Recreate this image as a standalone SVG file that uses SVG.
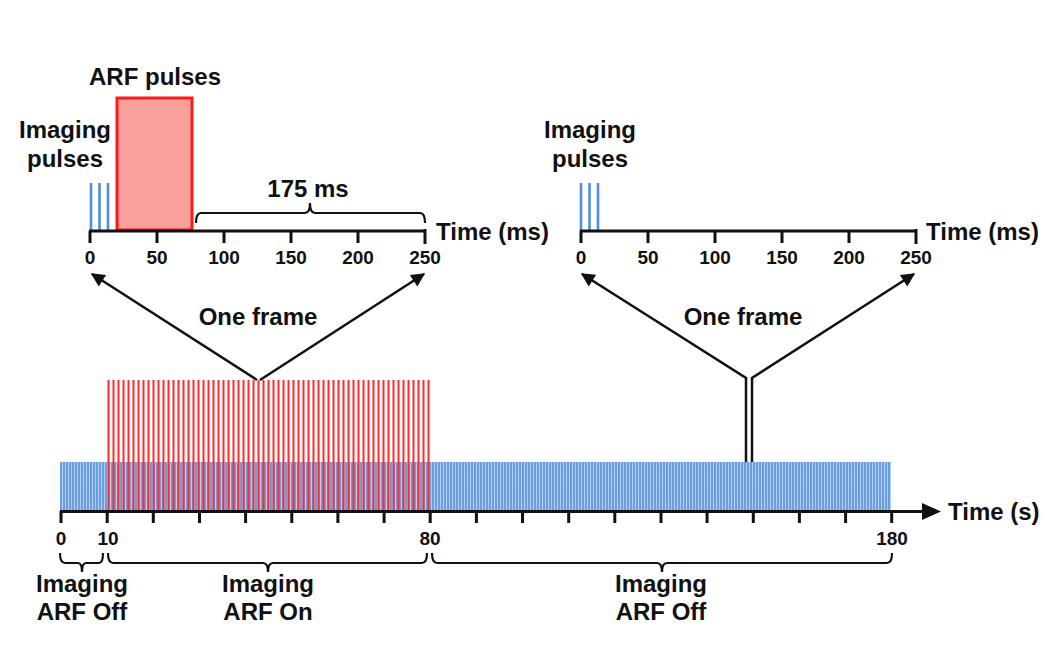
<svg xmlns="http://www.w3.org/2000/svg" width="1050" height="671" viewBox="0 0 1050 671">
<style>
.lbl{font-family:"Liberation Sans",Arial,sans-serif;font-weight:bold;font-size:24px;fill:#111;text-anchor:middle}
.tk{font-family:"Liberation Sans",Arial,sans-serif;font-weight:bold;font-size:19px;fill:#111;text-anchor:middle}
.st{font-family:"Liberation Sans",Arial,sans-serif;font-weight:bold;font-size:24px;fill:#111}
.ax{stroke:#111;stroke-width:3;fill:none}
.br{stroke:#111;stroke-width:2.2;fill:none}
.ln{stroke:#111;stroke-width:2.5;fill:none}
.imp{stroke:#4f8ee0;stroke-width:2.6}
</style>
<defs>
<marker id="ah" viewBox="0 0 10 10" refX="9" refY="5" markerWidth="6.5" markerHeight="5.5" markerUnits="strokeWidth" orient="auto">
<path d="M0,0 L10,5 L0,10 Z" fill="#111"/>
</marker>
<pattern id="bl" x="60" y="0" width="3" height="10" patternUnits="userSpaceOnUse">
<rect width="3" height="10" fill="#b3cff2"/>
<rect width="2" height="10" fill="#6a9de2"/>
</pattern>
</defs>
<rect width="1050" height="671" fill="#fff"/>

<g id="top-left-panel">
<text class="lbl" x="155" y="85">ARF pulses</text>
<text class="lbl" x="65" y="138">Imaging</text>
<text class="lbl" x="65" y="167">pulses</text>
<rect x="117" y="98" width="75" height="132" fill="#f9a09c" stroke="#ff1a1a" stroke-width="3"/>
<path class="imp" d="M91 183V231M99.5 183V231M108 183V231"/>
<path class="ax" d="M89 231H426M90 231V243M157 231V243M224 231V243M291 231V243M358 231V243M425 229V244"/>
<g class="tk"><text x="90" y="264">0</text><text x="157" y="264">50</text><text x="224" y="264">100</text><text x="291" y="264">150</text><text x="358" y="264">200</text><text x="425" y="264">250</text></g>
<path class="br" d="M196 223Q196 213 201 213H305Q310 213 310 203Q310 213 315 213H420Q425 213 425 223"/>
<text class="lbl" x="308" y="197">175 ms</text>
<text class="st" x="436" y="240">Time (ms)</text>
</g>

<g id="top-right-panel">
<text class="lbl" x="590" y="138">Imaging</text>
<text class="lbl" x="590" y="167">pulses</text>
<path class="imp" d="M581 183V231M589.5 183V231M598 183V231"/>
<path class="ax" d="M580 231H917M581 231V243M648 231V243M715 231V243M782 231V243M849 231V243M916 229V244"/>
<g class="tk"><text x="581" y="264">0</text><text x="648" y="264">50</text><text x="715" y="264">100</text><text x="782" y="264">150</text><text x="849" y="264">200</text><text x="916" y="264">250</text></g>
<text class="st" x="926" y="240">Time (ms)</text>
</g>

<g id="frame-labels">
<text class="lbl" x="258" y="325">One frame</text>
<text class="lbl" x="743" y="325">One frame</text>
</g>

<g id="connectors">
<path class="ln" d="M257 380L92 274" marker-end="url(#ah)"/>
<path class="ln" d="M260 380L424 274" marker-end="url(#ah)"/>
<path class="ln" d="M746 463V378L582 274" marker-end="url(#ah)"/>
<path class="ln" d="M752 463V378L914 274" marker-end="url(#ah)"/>
</g>

<g id="timeline">
<rect x="60" y="462" width="831" height="48" fill="url(#bl)"/>
<path stroke="#ff2a2a" stroke-width="2" d="M108.5 380V510M113.5 380V510M118.5 380V510M123.5 380V510M128.5 380V510M133.5 380V510M138.5 380V510M143.5 380V510M148.5 380V510M153.5 380V510M158.5 380V510M163.5 380V510M168.5 380V510M173.5 380V510M178.5 380V510M183.5 380V510M188.5 380V510M193.5 380V510M198.5 380V510M203.5 380V510M208.5 380V510M213.5 380V510M218.5 380V510M223.5 380V510M228.5 380V510M233.5 380V510M238.5 380V510M243.5 380V510M248.5 380V510M253.5 380V510M258.5 380V510M263.5 380V510M268.5 380V510M273.5 380V510M278.5 380V510M283.5 380V510M288.5 380V510M293.5 380V510M298.5 380V510M303.5 380V510M308.5 380V510M313.5 380V510M318.5 380V510M323.5 380V510M328.5 380V510M333.5 380V510M338.5 380V510M343.5 380V510M348.5 380V510M353.5 380V510M358.5 380V510M363.5 380V510M368.5 380V510M373.5 380V510M378.5 380V510M383.5 380V510M388.5 380V510M393.5 380V510M398.5 380V510M403.5 380V510M408.5 380V510M413.5 380V510M418.5 380V510M423.5 380V510M428.5 380V510"/>
<path class="ax" d="M60 511.5H925M61 511V523M107.2 511V523M153.3 511V523M199.5 511V523M245.6 511V523M291.8 511V523M337.9 511V523M384.1 511V523M430.2 511V523M476.4 511V523M522.5 511V523M568.7 511V523M614.8 511V523M661 511V523M707.1 511V523M753.3 511V523M799.4 511V523M845.6 511V523M891.7 511V523"/>
<path d="M922 503L941 511.5L922 520Z" fill="#111"/>
<text class="st" x="948" y="520">Time (s)</text>
<g class="tk"><text x="61" y="545">0</text><text x="108" y="545">10</text><text x="430" y="545">80</text><text x="892" y="545">180</text></g>
</g>

<g id="phase-labels">
<path class="br" d="M60 553Q60 563 65 563H78Q82 563 82 572Q82 563 86 563H99Q103 563 103 553"/>
<path class="br" d="M108 553Q108 563 113 563H263Q268 563 268 572Q268 563 273 563H422Q427 563 427 553"/>
<path class="br" d="M432 553Q432 563 437 563H657Q662 563 662 572Q662 563 667 563H887Q892 563 892 553"/>
<text class="lbl" x="82" y="592">Imaging</text><text class="lbl" x="82" y="620">ARF Off</text>
<text class="lbl" x="268" y="592">Imaging</text><text class="lbl" x="268" y="620">ARF On</text>
<text class="lbl" x="661" y="592">Imaging</text><text class="lbl" x="661" y="620">ARF Off</text>
</g>
</svg>
